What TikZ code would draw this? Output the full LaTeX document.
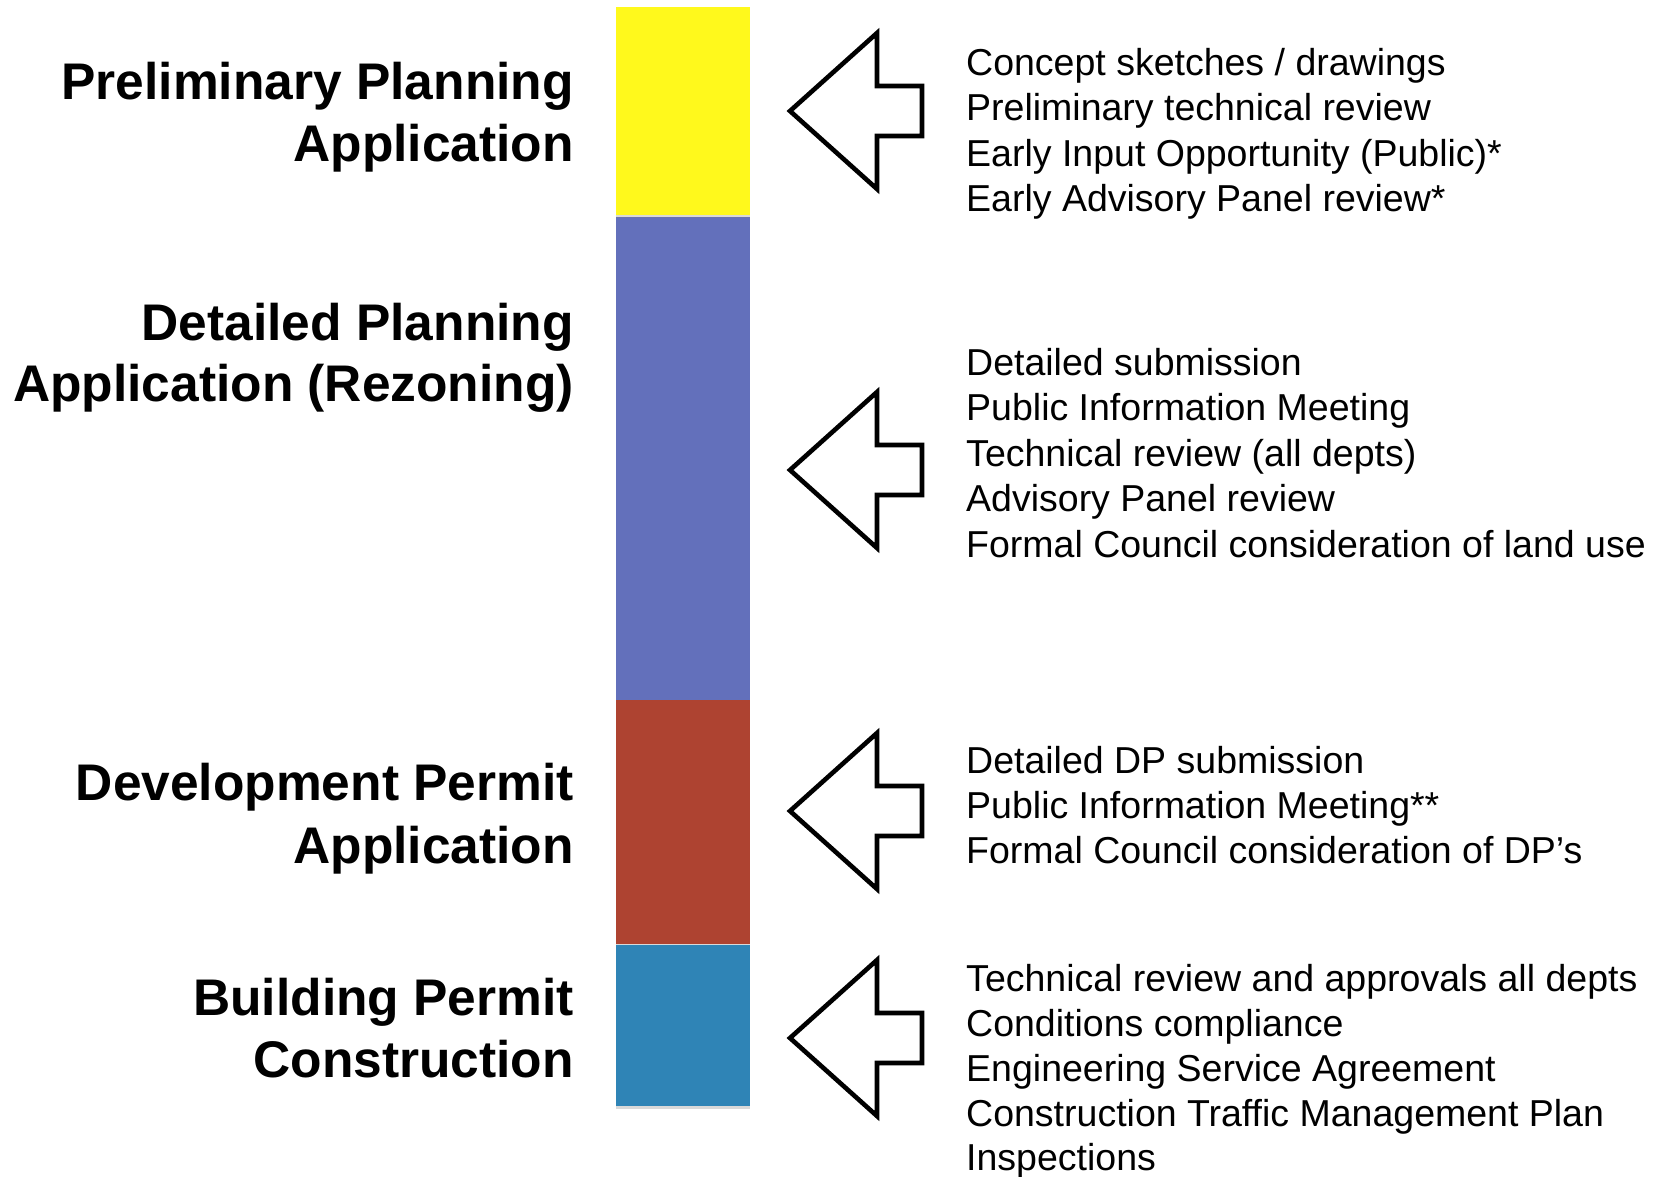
\documentclass[tikz,border=0pt]{standalone}
\usepackage{fontspec}
\setmainfont{Liberation Sans}
\usetikzlibrary{shadows}
\definecolor{cyellow}{RGB}{255,249,28}
\definecolor{cblue}{RGB}{99,112,187}
\definecolor{cred}{RGB}{174,67,49}
\definecolor{cteal}{RGB}{47,132,182}
\tikzset{
  barseg/.style={drop shadow={shadow xshift=0pt,shadow yshift=-2.5pt,opacity=0.3}},
  stage/.style={anchor=base east,inner sep=0pt,font=\fontsize{51.5}{61}\selectfont\bfseries},
  item/.style={anchor=base west,inner sep=0pt,font=\fontsize{37.5}{45}\selectfont},
  arrowline/.style={draw=black,fill=white,line width=4.6pt,miter limit=10},
  bigarrow/.pic={\path[arrowline] (0,0) -- (87,-78) -- (87,-25) -- (132,-25) -- (132,25) -- (87,25) -- (87,78) -- cycle;}
}
\begin{document}
\begin{tikzpicture}[x=1pt,y=-1pt]
\useasboundingbox (0,0) rectangle (1656,1176);
% bar
\fill[cblue,barseg] (616,217) rectangle (750,700);
\fill[cyellow,barseg] (616,7) rectangle (750,215);
\fill[cred,barseg] (616,700) rectangle (750,944);
\fill[cteal,barseg] (616,945) rectangle (750,1106);
% arrows
\pic at (790,111) {bigarrow};
\pic at (790,470) {bigarrow};
\pic at (790,811) {bigarrow};
\pic at (790,1038) {bigarrow};
% stage labels
\node[stage] (s1a) at (574,99) {Preliminary Planning};
\node[stage] (s1b) at (574,161) {Application};
\node[stage] (s2a) at (574,340) {Detailed Planning};
\node[stage] (s2b) at (574,401) {Application (Rezoning)};
\node[stage] (s3a) at (574,800) {Development Permit};
\node[stage] (s3b) at (574,863) {Application};
\node[stage] (s4a) at (574,1015) {Building Permit};
\node[stage] (s4b) at (574,1077) {Construction};
% items
\node[item] (i1a) at (966,75) {Concept sketches / drawings};
\node[item] (i1b) at (966,120) {Preliminary technical review};
\node[item] (i1c) at (966,166) {Early Input Opportunity (Public)*};
\node[item] (i1d) at (966,211) {Early Advisory Panel review*};
\node[item] (i2a) at (966,375) {Detailed submission};
\node[item] (i2b) at (966,420) {Public Information Meeting};
\node[item] (i2c) at (966,466) {Technical review (all depts)};
\node[item] (i2d) at (966,511) {Advisory Panel review};
\node[item] (i2e) at (966,557) {Formal Council consideration of land use};
\node[item] (i3a) at (966,773) {Detailed DP submission};
\node[item] (i3b) at (966,818) {Public Information Meeting**};
\node[item] (i3c) at (966,863) {Formal Council consideration of DP’s};
\node[item] (i4a) at (966,991) {Technical review and approvals all depts};
\node[item] (i4b) at (966,1036) {Conditions compliance};
\node[item] (i4c) at (966,1081) {Engineering Service Agreement};
\node[item] (i4d) at (966,1126) {Construction Traffic Management Plan};
\node[item] (i4e) at (966,1170) {Inspections};
\end{tikzpicture}
\end{document}
